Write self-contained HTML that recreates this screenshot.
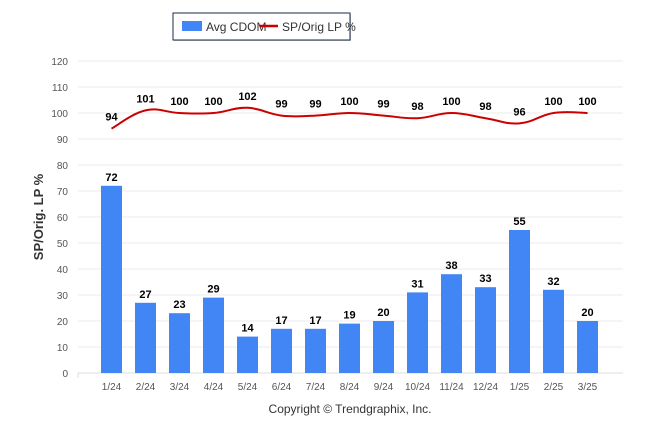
<!DOCTYPE html>
<html><head><meta charset="utf-8"><style>
body{margin:0;background:#fff;font-family:"Liberation Sans",Arial,sans-serif}
svg text{font-family:"Liberation Sans",Arial,sans-serif}
</style></head><body>
<svg id="c" width="646" height="434" xmlns="http://www.w3.org/2000/svg">
<g>
<rect x="174" y="14" width="177" height="27" fill="#8a8f99" opacity="0.5"/>
<rect x="173" y="13" width="177" height="27" fill="#fff" stroke="#1d2a4a" stroke-width="1"/>
<rect x="182" y="21" width="20" height="10" fill="#4285f4"/>
<text x="206" y="31" font-size="12" fill="#333">Avg CDOM</text>
<line x1="260" y1="26" x2="278" y2="26" stroke="#cc0000" stroke-width="2.5"/>
<text x="282" y="31" font-size="12" fill="#333">SP/Orig LP %</text>
</g>
<text transform="translate(43,217) rotate(-90)" text-anchor="middle" font-size="13" font-weight="bold" fill="#333">SP/Orig. LP %</text>
<g id="grid"></g><g id="bars"></g><g id="line"></g><g id="labels"></g>
<text x="350" y="413" text-anchor="middle" font-size="12" fill="#333">Copyright © Trendgraphix, Inc.</text>
</svg>
<script>
const categories=["1/24","2/24","3/24","4/24","5/24","6/24","7/24","8/24","9/24","10/24","11/24","12/24","1/25","2/25","3/25"];
const cdom=[72,27,23,29,14,17,17,19,20,31,38,33,55,32,20];
const sp=[94,101,100,100,102,99,99,100,99,98,100,98,96,100,100];
const yTicks=[0,10,20,30,40,50,60,70,80,90,100,110,120];
const NS="http://www.w3.org/2000/svg";
const y=v=>373-2.6*v;
const x=i=>111.5+34*i;
function mk(tag,attrs,parent,txt){const e=document.createElementNS(NS,tag);for(const k in attrs)e.setAttribute(k,attrs[k]);if(txt!==undefined)e.textContent=txt;document.getElementById(parent).appendChild(e);return e;}
yTicks.forEach(t=>{
 const l=mk('line',{x1:78,x2:623,y1:y(t),y2:y(t),stroke:t===0?'#ddd':'#ebebeb','stroke-width':1},'grid');
 
 
 const tx=mk('text',{x:68,y:y(t)+4,'text-anchor':'end','font-size':10,fill:'#555'},'grid',t);
 
 
});
const tk=mk('line',{x1:78,x2:78,y1:373,y2:378,stroke:'#ddd'},'grid');


categories.forEach((c,i)=>{
 const b=mk('rect',{x:x(i)-10.5,y:y(cdom[i]),width:21,height:373-y(cdom[i]),fill:'#4285f4'},'bars');
 
 
 const bl=mk('text',{x:x(i),y:y(cdom[i])-5,'text-anchor':'middle','font-size':11,'font-weight':'bold',fill:'#000'},'labels',cdom[i]);
 
 
 const xl=mk('text',{x:x(i),y:390,'text-anchor':'middle','font-size':10,fill:'#555'},'labels',c);
 
 
 const pl=mk('text',{x:x(i),y:y(sp[i])-8,'text-anchor':'middle','font-size':11,'font-weight':'bold',fill:'#000'},'labels',sp[i]);
 
 
});
const pts=sp.map((v,i)=>[x(i),y(v)]);
let d='M'+pts[0][0]+','+pts[0][1];
for(let i=0;i<pts.length-1;i++){
 const p0=pts[Math.max(0,i-1)],p1=pts[i],p2=pts[i+1],p3=pts[Math.min(pts.length-1,i+2)];
 const t=0.2;
 d+=` C${p1[0]+(p2[0]-p0[0])*t},${p1[1]+(p2[1]-p0[1])*t} ${p2[0]-(p3[0]-p1[0])*t},${p2[1]-(p3[1]-p1[1])*t} ${p2[0]},${p2[1]}`;
}
const path=mk('path',{d:d,fill:'none',stroke:'#cc0000','stroke-width':2},'line');


</script>
</body></html>
